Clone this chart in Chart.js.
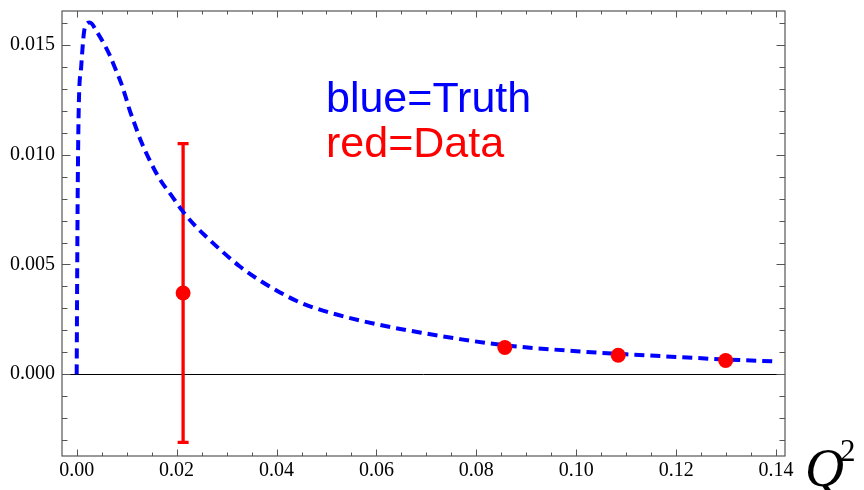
<!DOCTYPE html>
<html>
<head>
<meta charset="utf-8">
<script src="https://cdn.jsdelivr.net/npm/chart.js@4/dist/chart.umd.min.js"></script>
<style>
  html, body { margin: 0; padding: 0; background: #ffffff; }
  #wrap { width: 864px; height: 490px; }
</style>
</head>
<body>
<div id="wrap"><canvas id="c" width="864" height="490"></canvas></div>
<script>
// Model curve ("Truth") sampled along Q^2
const truthQ2  = [0, 0.0001, 0.0002, 0.0004, 0.0009, 0.0016, 0.0026, 0.0042, 0.0056, 0.0066, 0.0076, 0.0089, 0.0098, 0.0106, 0.0116, 0.0128, 0.0146, 0.0166, 0.0192, 0.0212, 0.0236, 0.0260, 0.0286, 0.0326, 0.0366, 0.0406, 0.0446, 0.0500, 0.0600, 0.0700, 0.0767, 0.0857, 0.1000, 0.1100, 0.1200, 0.1300, 0.1394];
const truthVal = [0, 0.0045, 0.0082, 0.0120, 0.0140, 0.01575, 0.01602, 0.01554, 0.01499, 0.01454, 0.01399, 0.01326, 0.01263, 0.01203, 0.01140, 0.01066, 0.00975, 0.00890, 0.00807, 0.00743, 0.00679, 0.00625, 0.00570, 0.00492, 0.00428, 0.00374, 0.00328, 0.00285, 0.00228, 0.00185, 0.00160, 0.00132, 0.00105, 0.00091, 0.00079, 0.00067, 0.00059];

// Measured points ("Data") with symmetric errors
const dataQ2  = [0.0213, 0.0857, 0.1084, 0.1299];
const dataVal = [0.0037, 0.00122, 0.000866, 0.000624];
const dataErr = [0.0068, 0, 0, 0];

// Labelled tick positions
const xTickValues = [0, 0.02, 0.04, 0.06, 0.08, 0.10, 0.12, 0.14];
const yTickValues = [0, 0.005, 0.010, 0.015];
const xMinorStep = 0.005;
const yMinorStep = 0.001;

const X_MIN = -0.00294, X_MAX = 0.14178;
const Y_MIN = -0.003724, Y_MAX = 0.016545;

function stepsBetween(min, max, step) {
  const out = [];
  const start = Math.ceil(min / step - 1e-9);
  const end = Math.floor(max / step + 1e-9);
  for (let k = start; k <= end; k++) out.push(+(k * step).toFixed(6));
  return out;
}
function isMajor(v, majors) {
  return majors.some(m => Math.abs(m - v) < 1e-9);
}
function noEdgePadding(s) {
  s.paddingTop = 0; s.paddingBottom = 0; s.paddingLeft = 0; s.paddingRight = 0;
}

const framePlugin = {
  id: 'mmaFrame',
  beforeDatasetsDraw(chart) {
    const { ctx, chartArea: a, scales: { x, y } } = chart;
    ctx.save();
    // horizontal axis line at zero
    const y0 = Math.round(y.getPixelForValue(0)) + 0.5;
    ctx.strokeStyle = '#000000';
    ctx.lineWidth = 1;
    ctx.beginPath();
    ctx.moveTo(a.left, y0);
    ctx.lineTo(a.right, y0);
    ctx.stroke();
    // error bars
    ctx.strokeStyle = '#ff0000';
    ctx.lineWidth = 3.3;
    ctx.lineCap = 'butt';
    dataQ2.forEach((q, i) => {
      const e = dataErr[i];
      if (!e) return;
      const px = x.getPixelForValue(q);
      const top = y.getPixelForValue(dataVal[i] + e);
      const bot = y.getPixelForValue(dataVal[i] - e);
      ctx.beginPath();
      ctx.moveTo(px, top);
      ctx.lineTo(px, bot);
      ctx.moveTo(px - 5.5, top);
      ctx.lineTo(px + 5.5, top);
      ctx.moveTo(px - 5.5, bot);
      ctx.lineTo(px + 5.5, bot);
      ctx.stroke();
    });
    ctx.restore();
  },
  afterDatasetsDraw(chart) {
    const { ctx, chartArea: a, scales: { x, y } } = chart;
    ctx.save();
    // frame
    ctx.strokeStyle = '#555555';
    ctx.lineWidth = 1.2;
    ctx.strokeRect(a.left, a.top, a.right - a.left, a.bottom - a.top);
    // inward ticks on all four sides
    ctx.lineWidth = 1;
    ctx.strokeStyle = '#555555';
    ctx.beginPath();
    stepsBetween(X_MIN, X_MAX, xMinorStep).forEach(v => {
      const len = isMajor(v, xTickValues) ? 6.5 : 3.5;
      const px = Math.round(x.getPixelForValue(v)) + 0.5;
      ctx.moveTo(px, a.bottom); ctx.lineTo(px, a.bottom - len);
      ctx.moveTo(px, a.top); ctx.lineTo(px, a.top + len);
    });
    stepsBetween(Y_MIN, Y_MAX, yMinorStep).forEach(v => {
      const len = isMajor(v, yTickValues) ? 8.5 : 5.5;
      const py = Math.round(y.getPixelForValue(v)) + 0.5;
      ctx.moveTo(a.left, py); ctx.lineTo(a.left + len, py);
      ctx.moveTo(a.right, py); ctx.lineTo(a.right - len, py);
    });
    ctx.stroke();

    // in-plot key
    ctx.font = '43px "Liberation Sans", Arial, sans-serif';
    ctx.textAlign = 'left';
    ctx.textBaseline = 'alphabetic';
    ctx.fillStyle = '#0000ff';
    ctx.fillText('blue=Truth', x.getPixelForValue(0.0499), y.getPixelForValue(0.01196));
    ctx.fillStyle = '#ff0000';
    ctx.fillText('red=Data', x.getPixelForValue(0.0499), y.getPixelForValue(0.0099));

    // axis title Q^2
    ctx.fillStyle = '#000000';
    ctx.font = 'italic 54px "Liberation Serif", "Times New Roman", serif';
    const qx = a.right + 20;
    ctx.fillText('Q', qx, 486);
    const qw = ctx.measureText('Q').width;
    ctx.font = '31px "Liberation Serif", "Times New Roman", serif';
    ctx.fillText('2', qx + qw - 4, 461);
    ctx.restore();
  }
};

const ctx = document.getElementById('c').getContext('2d');
new Chart(ctx, {
  type: 'scatter',
  data: {
    datasets: [
      {
        label: 'Truth',
        data: truthQ2.map((q, i) => ({ x: q, y: truthVal[i] })),
        showLine: true,
        borderColor: '#0000ff',
        borderWidth: 4,
        borderDash: [10, 6],
        borderCapStyle: 'butt',
        cubicInterpolationMode: 'monotone',
        pointRadius: 0,
        pointHoverRadius: 0,
        fill: false,
        order: 2
      },
      {
        label: 'Data',
        data: dataQ2.map((q, i) => ({ x: q, y: dataVal[i] })),
        showLine: false,
        pointRadius: 7.5,
        pointBackgroundColor: '#ff0000',
        pointBorderColor: '#ff0000',
        pointBorderWidth: 0,
        order: 1
      }
    ]
  },
  options: {
    responsive: false,
    animation: false,
    events: [],
    layout: { padding: { top: 11, right: 79, left: 0, bottom: 0 } },
    plugins: { legend: { display: false }, tooltip: { enabled: false } },
    scales: {
      x: {
        type: 'linear',
        min: X_MIN,
        max: X_MAX,
        afterBuildTicks: s => { s.ticks = xTickValues.map(v => ({ value: v })); },
        afterFit: s => { s.height = 34; noEdgePadding(s); },
        grid: { display: false, drawTicks: false },
        border: { display: false },
        ticks: {
          padding: 3,
          color: '#000000',
          maxRotation: 0,
          autoSkip: false,
          font: { family: '"Liberation Serif", "Times New Roman", serif', size: 20 },
          callback: v => Number(v).toFixed(2)
        }
      },
      y: {
        type: 'linear',
        min: Y_MIN,
        max: Y_MAX,
        afterBuildTicks: s => { s.ticks = yTickValues.map(v => ({ value: v })); },
        afterFit: s => { s.width = 62; noEdgePadding(s); },
        grid: { display: false, drawTicks: false },
        border: { display: false },
        ticks: {
          padding: 7,
          color: '#000000',
          autoSkip: false,
          font: { family: '"Liberation Serif", "Times New Roman", serif', size: 20 },
          callback: v => Number(v).toFixed(3)
        }
      }
    }
  },
  plugins: [framePlugin]
});
</script>
</body>
</html>
